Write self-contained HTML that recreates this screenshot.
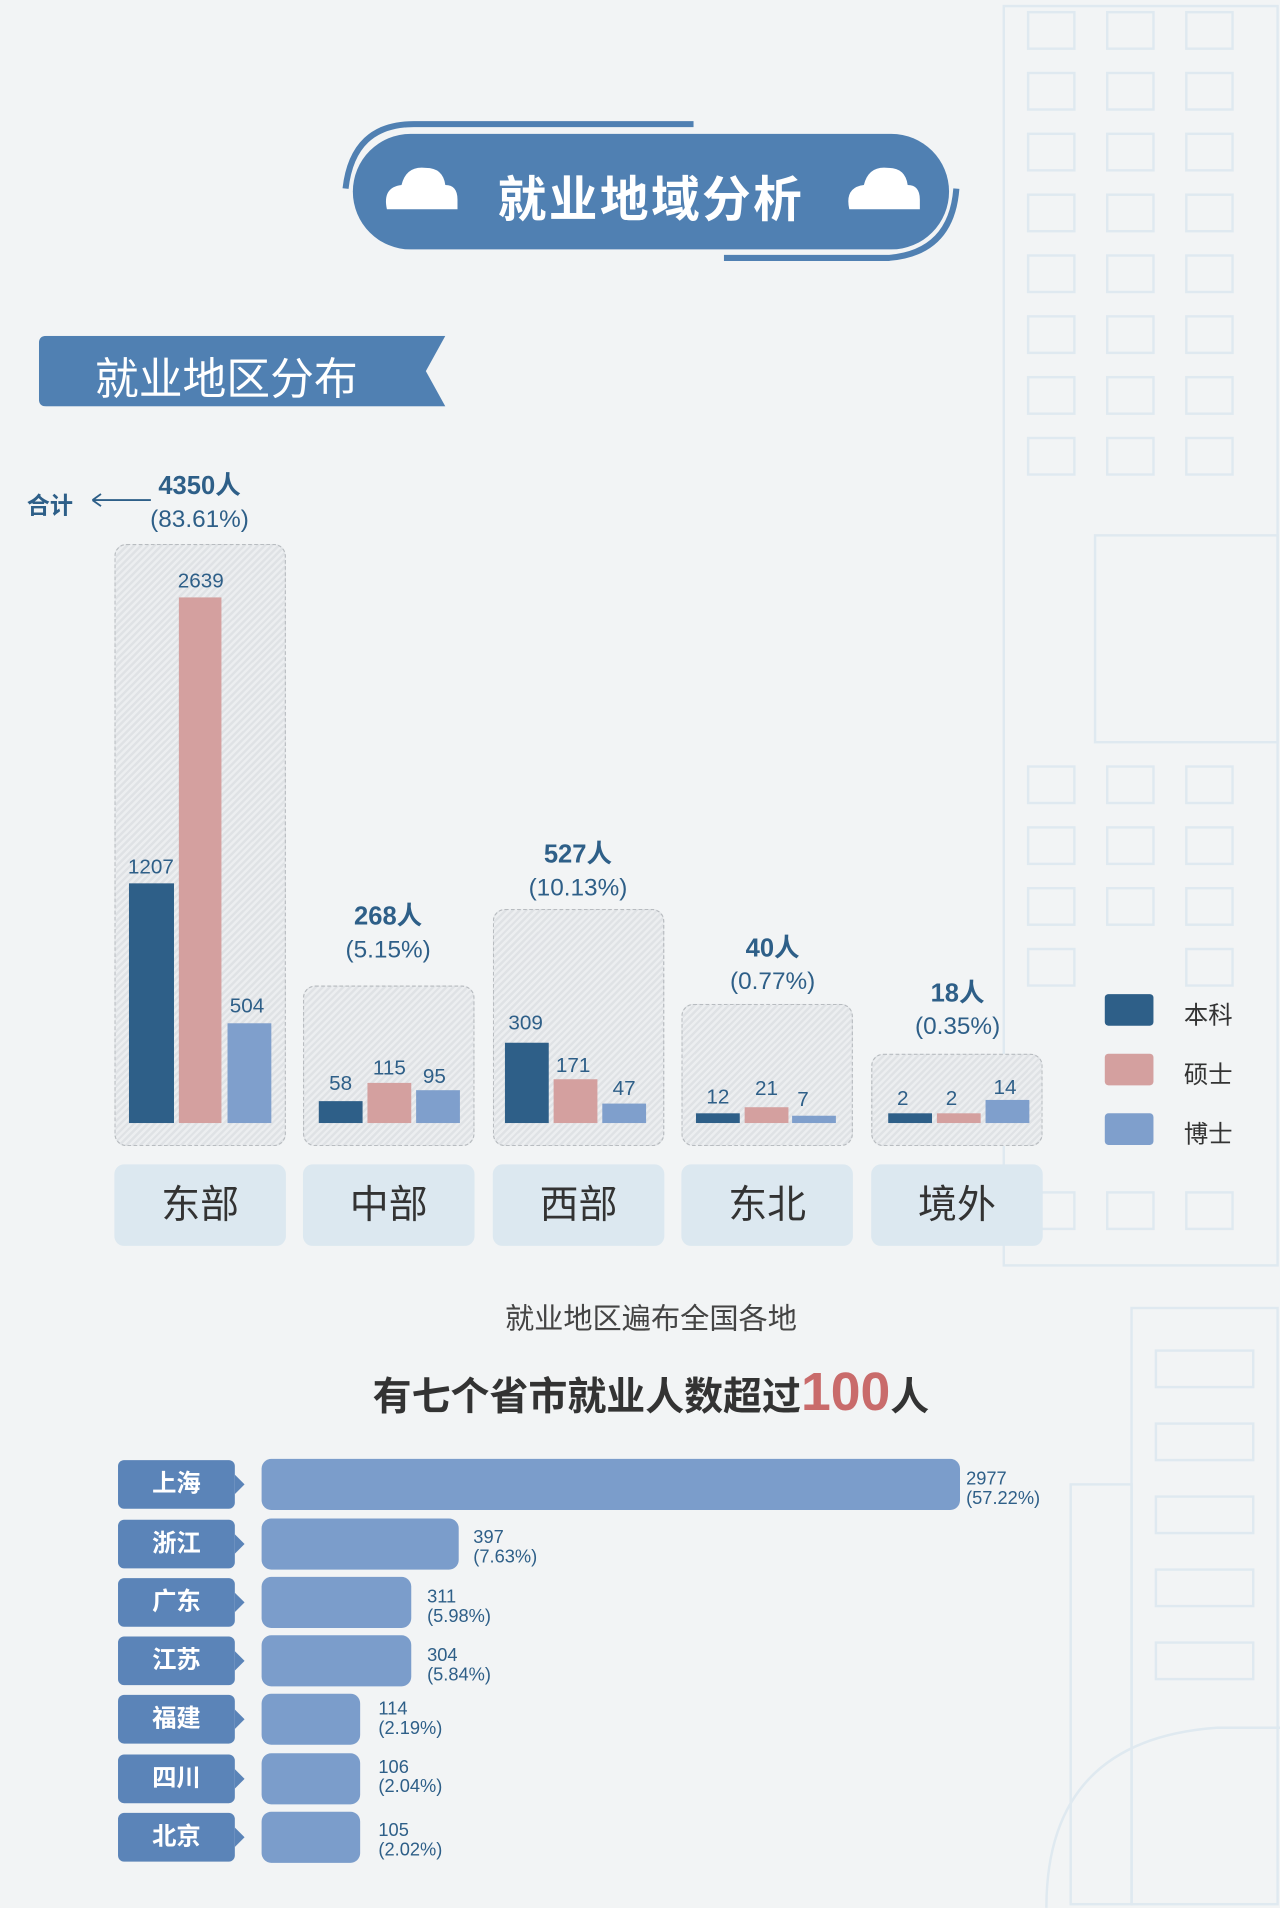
<!DOCTYPE html>
<html><head><meta charset="utf-8"><style>
html,body{margin:0;padding:0;background:#f2f4f5;}
#wrap{position:relative;width:1052px;height:1568px;transform:scale(1.21673);transform-origin:0 0;overflow:hidden;background:#f2f4f5;font-family:"Liberation Sans","Noto Sans CJK SC",sans-serif;}
.a{position:absolute;}
.t{position:absolute;white-space:nowrap;}
.box{position:absolute;border:1.5px dashed #b8bcc0;border-radius:10px;background:repeating-linear-gradient(135deg,#eceef0 0 2px,#dfe2e5 2px 4px);}
.cat{position:absolute;top:957px;height:67px;width:141px;background:#dce8f0;border-radius:8px;font-size:32px;color:#333;text-align:center;line-height:67px;}
.v{position:absolute;font-size:17px;color:#2e5f88;text-align:center;width:50px;}
.tot{position:absolute;text-align:center;width:160px;color:#2e5f88;font-size:20px;line-height:27px;}
.tot b{font-size:21px;}
.lab{position:absolute;left:97px;width:96px;height:40px;background:#5b84b8;border-radius:5px;color:#fff;font-weight:bold;font-size:20px;text-align:center;line-height:40px;}
.lab:after{content:"";position:absolute;right:-8px;top:12px;border-left:8px solid #5b84b8;border-top:8px solid transparent;border-bottom:8px solid transparent;}
.hb{position:absolute;left:215px;height:42px;background:#7b9dcb;border-radius:8px;}
.hv{position:absolute;font-size:15px;color:#2e5f88;line-height:16px;}
</style></head><body><div id="wrap">
<svg class="a" style="left:0;top:0" width="1052" height="1568">
<g fill="none" stroke="#dfe9f0" stroke-width="2">
<rect x="825" y="5" width="225" height="1035"/>
<rect x="845" y="10" width="38" height="30"/><rect x="910" y="10" width="38" height="30"/><rect x="975" y="10" width="38" height="30"/>
<rect x="845" y="60" width="38" height="30"/><rect x="910" y="60" width="38" height="30"/><rect x="975" y="60" width="38" height="30"/>
<rect x="845" y="110" width="38" height="30"/><rect x="910" y="110" width="38" height="30"/><rect x="975" y="110" width="38" height="30"/>
<rect x="845" y="160" width="38" height="30"/><rect x="910" y="160" width="38" height="30"/><rect x="975" y="160" width="38" height="30"/>
<rect x="845" y="210" width="38" height="30"/><rect x="910" y="210" width="38" height="30"/><rect x="975" y="210" width="38" height="30"/>
<rect x="845" y="260" width="38" height="30"/><rect x="910" y="260" width="38" height="30"/><rect x="975" y="260" width="38" height="30"/>
<rect x="845" y="310" width="38" height="30"/><rect x="910" y="310" width="38" height="30"/><rect x="975" y="310" width="38" height="30"/>
<rect x="845" y="360" width="38" height="30"/><rect x="910" y="360" width="38" height="30"/><rect x="975" y="360" width="38" height="30"/>
<rect x="900" y="440" width="150" height="170"/>
<rect x="845" y="630" width="38" height="30"/><rect x="910" y="630" width="38" height="30"/><rect x="975" y="630" width="38" height="30"/>
<rect x="845" y="680" width="38" height="30"/><rect x="910" y="680" width="38" height="30"/><rect x="975" y="680" width="38" height="30"/>
<rect x="845" y="730" width="38" height="30"/><rect x="910" y="730" width="38" height="30"/><rect x="975" y="730" width="38" height="30"/>
<rect x="845" y="780" width="38" height="30"/><rect x="975" y="780" width="38" height="30"/>
<rect x="845" y="980" width="38" height="30"/><rect x="910" y="980" width="38" height="30"/><rect x="975" y="980" width="38" height="30"/>
<rect x="930" y="1075" width="120" height="490"/>
<rect x="950" y="1110" width="80" height="30"/><rect x="950" y="1170" width="80" height="30"/><rect x="950" y="1230" width="80" height="30"/><rect x="950" y="1290" width="80" height="30"/><rect x="950" y="1350" width="80" height="30"/>
<rect x="880" y="1220" width="50" height="345"/>
<path d="M860 1568 Q860 1430 1000 1420 L1052 1420"/>
</g>
</svg>

<div class="a" style="left:290px;top:110px;width:490px;height:95px;background:#5080b2;border-radius:48px;"></div>
<svg class="a" style="left:270px;top:90px" width="530" height="135">
<path d="M300 12 L70 12 Q20 12 14 65" fill="none" stroke="#5080b2" stroke-width="5"/>
<path d="M325 122 L460 122 Q512 118 516 65" fill="none" stroke="#5080b2" stroke-width="5"/>
<g fill="#fff"><path d="M48 82 Q44 64 60 62 Q64 46 80 48 Q94 48 96 62 Q106 62 106 74 L106 82 Z"/>
<path d="M428 82 Q424 64 440 62 Q444 46 460 48 Q474 48 476 62 Q486 62 486 74 L486 82 Z"/></g>
</svg>
<div class="t" style="left:290px;width:490px;top:132px;text-align:center;color:#fff;font-size:40px;font-weight:bold;letter-spacing:2px;">就业地域分析</div>

<svg class="a" style="left:32px;top:276px" width="336" height="58"><path d="M6 0 L334 0 L318 29 L334 58 L6 58 Q0 58 0 52 L0 6 Q0 0 6 0Z" fill="#5080b2"/></svg>
<div class="t" style="left:78px;top:283px;color:#fff;font-size:36px;">就业地区分布</div>

<div class="t" style="left:22px;top:401px;font-size:19px;color:#2e5f88;font-weight:bold;">合计</div>
<svg class="a" style="left:74px;top:404px" width="52" height="14"><path d="M2 7 L50 7 M2 7 L9 2 M2 7 L9 12" stroke="#2e5f88" stroke-width="1.5" fill="none"/></svg>

<div class="box" style="left:94px;top:447px;width:139px;height:493px"></div>
<div class="box" style="left:249px;top:810px;width:139px;height:130px"></div>
<div class="box" style="left:405px;top:747px;width:139px;height:193px"></div>
<div class="box" style="left:560px;top:825px;width:139px;height:115px"></div>
<div class="box" style="left:716px;top:866px;width:139px;height:74px"></div>

<div class="tot" style="left:84px;top:386px"><b>4350人</b><br>(83.61%)</div>
<div class="tot" style="left:239px;top:740px"><b>268人</b><br>(5.15%)</div>
<div class="tot" style="left:395px;top:689px"><b>527人</b><br>(10.13%)</div>
<div class="tot" style="left:555px;top:766px"><b>40人</b><br>(0.77%)</div>
<div class="tot" style="left:707px;top:803px"><b>18人</b><br>(0.35%)</div>

<div class="a" style="left:106px;top:726px;width:37px;height:197px;background:#2e5f88"></div>
<div class="a" style="left:147px;top:491px;width:35px;height:432px;background:#d4a09f"></div>
<div class="a" style="left:187px;top:841px;width:36px;height:82px;background:#7f9fcc"></div>
<div class="v" style="left:99px;top:703px">1207</div><div class="v" style="left:140px;top:468px">2639</div><div class="v" style="left:178px;top:817px">504</div>

<div class="a" style="left:262px;top:905px;width:36px;height:18px;background:#2e5f88"></div>
<div class="a" style="left:302px;top:890px;width:36px;height:33px;background:#d4a09f"></div>
<div class="a" style="left:342px;top:896px;width:36px;height:27px;background:#7f9fcc"></div>
<div class="v" style="left:255px;top:881px">58</div><div class="v" style="left:295px;top:868px">115</div><div class="v" style="left:332px;top:875px">95</div>

<div class="a" style="left:415px;top:857px;width:36px;height:66px;background:#2e5f88"></div>
<div class="a" style="left:455px;top:887px;width:36px;height:36px;background:#d4a09f"></div>
<div class="a" style="left:495px;top:907px;width:36px;height:16px;background:#7f9fcc"></div>
<div class="v" style="left:407px;top:831px">309</div><div class="v" style="left:446px;top:866px">171</div><div class="v" style="left:488px;top:885px">47</div>

<div class="a" style="left:572px;top:915px;width:36px;height:8px;background:#2e5f88"></div>
<div class="a" style="left:612px;top:910px;width:36px;height:13px;background:#d4a09f"></div>
<div class="a" style="left:651px;top:917px;width:36px;height:6px;background:#7f9fcc"></div>
<div class="v" style="left:565px;top:892px">12</div><div class="v" style="left:605px;top:885px">21</div><div class="v" style="left:635px;top:894px">7</div>

<div class="a" style="left:730px;top:915px;width:36px;height:8px;background:#2e5f88"></div>
<div class="a" style="left:770px;top:915px;width:36px;height:8px;background:#d4a09f"></div>
<div class="a" style="left:810px;top:904px;width:36px;height:19px;background:#7f9fcc"></div>
<div class="v" style="left:717px;top:893px">2</div><div class="v" style="left:757px;top:893px">2</div><div class="v" style="left:801px;top:884px">14</div>

<div class="cat" style="left:94px">东部</div>
<div class="cat" style="left:249px">中部</div>
<div class="cat" style="left:405px">西部</div>
<div class="cat" style="left:560px">东北</div>
<div class="cat" style="left:716px">境外</div>

<div class="a" style="left:908px;top:817px;width:40px;height:26px;background:#2e5f88;border-radius:3px"></div>
<div class="a" style="left:908px;top:866px;width:40px;height:26px;background:#d4a09f;border-radius:3px"></div>
<div class="a" style="left:908px;top:915px;width:40px;height:26px;background:#7f9fcc;border-radius:3px"></div>
<div class="t" style="left:973px;top:818px;font-size:20px;color:#333">本科</div>
<div class="t" style="left:973px;top:867px;font-size:20px;color:#333">硕士</div>
<div class="t" style="left:973px;top:916px;font-size:20px;color:#333">博士</div>

<div class="t" style="left:0;width:1070px;text-align:center;top:1064px;font-size:24px;color:#444">就业地区遍布全国各地</div>
<div class="t" style="left:0;width:1070px;text-align:center;top:1120px;font-size:32px;color:#333;font-weight:bold;">有七个省市就业人数超过<span style="color:#c96b6b;font-size:44px;">100</span>人</div>

<div class="lab" style="top:1200px">上海</div><div class="hb" style="top:1199px;width:574px"></div><div class="hv" style="left:794px;top:1208px">2977<br>(57.22%)</div>
<div class="lab" style="top:1249px">浙江</div><div class="hb" style="top:1248px;width:162px"></div><div class="hv" style="left:389px;top:1256px">397<br>(7.63%)</div>
<div class="lab" style="top:1297px">广东</div><div class="hb" style="top:1296px;width:123px"></div><div class="hv" style="left:351px;top:1305px">311<br>(5.98%)</div>
<div class="lab" style="top:1345px">江苏</div><div class="hb" style="top:1344px;width:123px"></div><div class="hv" style="left:351px;top:1353px">304<br>(5.84%)</div>
<div class="lab" style="top:1393px">福建</div><div class="hb" style="top:1392px;width:81px"></div><div class="hv" style="left:311px;top:1397px">114<br>(2.19%)</div>
<div class="lab" style="top:1442px">四川</div><div class="hb" style="top:1441px;width:81px"></div><div class="hv" style="left:311px;top:1445px">106<br>(2.04%)</div>
<div class="lab" style="top:1490px">北京</div><div class="hb" style="top:1489px;width:81px"></div><div class="hv" style="left:311px;top:1497px">105<br>(2.02%)</div>
</div></body></html>
